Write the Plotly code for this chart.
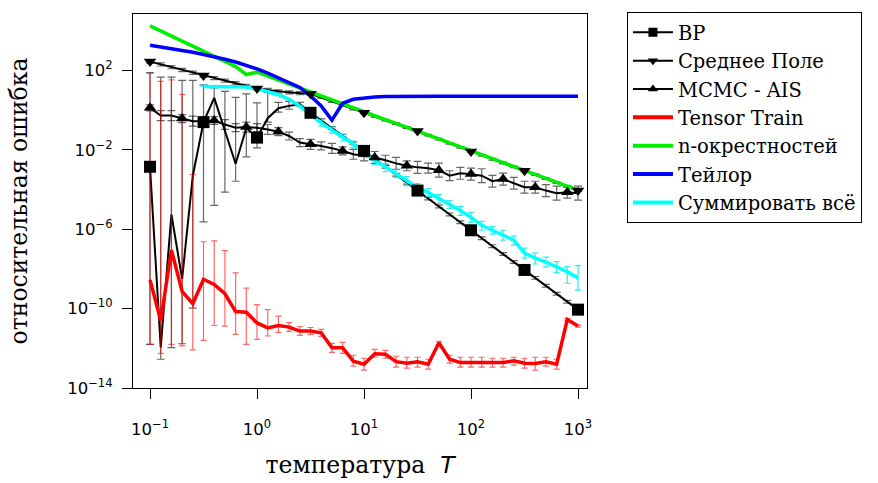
import numpy as np
import plotly.graph_objects as go

# Temperature grid (41 points, 0.1 .. 1000)
T = [0.1, 0.1259, 0.1585, 0.1995, 0.2512, 0.3162, 0.3981, 0.5012, 0.631, 0.7943,
     1.0, 1.259, 1.585, 1.995, 2.512, 3.162, 3.981, 5.012, 6.31, 7.943,
     10.0, 12.59, 15.85, 19.95, 25.12, 31.62, 39.81, 50.12, 63.1, 79.43,
     100.0, 125.9, 158.5, 199.5, 251.2, 316.2, 398.1, 501.2, 631.0, 794.3, 1000.0]

# ---- values, as log10 of relative error ----
bp_log = [-2.85, -11.95, -5.25, -8.5, -3.3, -0.6, 0.62, -1.05, -2.7, -0.9,
          -1.38, -0.4, 0.1, 0.22, 0.3, -0.13, -0.51, -0.9, -1.28, -1.67,
          -2.05, -2.45, -2.85, -3.25, -3.65, -4.05, -4.45, -4.85, -5.25, -5.65,
          -6.05, -6.45, -6.85, -7.25, -7.65, -8.05, -8.45, -8.85, -9.25, -9.65, -10.05]
bp_hi_log = [1.9, 1.67, 1.67, 1.5, 1.5, 1.28, 1.12, 0.95, 0.65, 0.82,
             0.37, 0.9, 0.4, 0.45, 0.4, -0.06, -0.44, -0.83, -1.21, -1.6,
             -1.98, -2.38, -2.78, -3.18, -3.58, -3.98, -4.38, -4.78, -5.18, -5.58,
             -5.98, -6.38, -6.78, -7.18, -7.58, -7.98, -8.38, -8.78, -9.18, -9.58, -9.98]
bp_lo_log = [-11.8, -12.55, -11.97, -11.77, -9.97, -5.63, -4.8, -4.13, -3.58, -2.35,
             -1.9, -0.6, -0.1, 0.05, 0.2, -0.2, -0.58, -0.97, -1.35, -1.74,
             -2.12, -2.52, -2.92, -3.32, -3.72, -4.12, -4.52, -4.92, -5.32, -5.72,
             -6.12, -6.52, -6.92, -7.32, -7.72, -8.12, -8.52, -8.92, -9.32, -9.72, -10.12]

mf_log = [2.45, 2.31, 2.17, 2.03, 1.89, 1.75, 1.62, 1.49, 1.36, 1.23,
          1.1, 1.02, 0.95, 0.9, 0.86, 0.83, 0.64, 0.45, 0.26, 0.07,
          -0.13, -0.31, -0.5, -0.68, -0.87, -1.05, -1.26, -1.46, -1.67, -1.87,
          -2.08, -2.27, -2.47, -2.66, -2.86, -3.05, -3.25, -3.45, -3.65, -3.85, -4.05]
mf_err_log = [0.08, 0.08, 0.08, 0.08, 0.08, 0.08, 0.08, 0.08, 0.08, 0.08,
              0.08, 0.08, 0.08, 0.08, 0.08, 0.06, 0.05, 0.05, 0.05, 0.05,
              0.04, 0.04, 0.04, 0.04, 0.04, 0.04, 0.04, 0.04, 0.04, 0.04,
              0.04, 0.04, 0.04, 0.04, 0.04, 0.04, 0.04, 0.04, 0.04, 0.04, 0.04]

mcmc_log = [0.12, -0.27, -0.27, -0.42, -0.55, -0.55, -0.52, -0.72, -0.88, -0.85,
            -0.88, -0.97, -1.08, -1.3, -1.63, -1.72, -1.8, -1.92, -2.05, -2.22,
            -2.3, -2.38, -2.52, -2.68, -2.8, -2.88, -2.92, -3.02, -3.3, -3.18,
            -3.22, -3.3, -3.58, -3.47, -3.68, -3.88, -3.88, -4.05, -4.18, -4.13, -4.18]
mcmc_err_log = [0.15, 0.25, 0.25, 0.2, 0.25, 0.2, 0.2, 0.25, 0.2, 0.25,
                0.2, 0.25, 0.2, 0.2, 0.2, 0.25, 0.2, 0.25, 0.2, 0.25,
                0.25, 0.3, 0.25, 0.3, 0.25, 0.3, 0.25, 0.35, 0.25, 0.3,
                0.3, 0.35, 0.3, 0.3, 0.3, 0.3, 0.3, 0.3, 0.35, 0.3, 0.35]

tt_log = [-8.55, -10.6, -7.05, -9.13, -9.75, -8.52, -8.78, -9.25, -10.15, -10.18,
          -10.72, -10.97, -10.85, -10.93, -11.13, -11.13, -11.22, -11.97, -11.97, -12.65,
          -12.8, -12.27, -12.3, -12.67, -12.75, -12.68, -12.8, -11.72, -12.55, -12.72,
          -12.72, -12.72, -12.72, -12.72, -12.63, -12.75, -12.77, -12.68, -12.8, -10.55, -10.88]
tt_hi_log = [1.85, 1.45, 1.53, 0.8, -3.25, -6.63, -6.58, -7.08, -8.2, -8.97,
             -9.8, -10.05, -10.38, -10.7, -10.9, -10.95, -11.05, -11.75, -11.7, -12.35,
             -12.5, -12.05, -12.1, -12.4, -12.45, -12.45, -12.55, -11.65, -12.35, -12.45,
             -12.45, -12.45, -12.5, -12.5, -12.45, -12.5, -12.45, -12.45, -12.55, -10.5, -10.83]
tt_lo_log = [-11.8, -12.25, -11.8, -11.88, -12.08, -11.6, -10.85, -10.88, -11.3, -11.8,
             -11.55, -11.38, -11.2, -11.15, -11.35, -11.3, -11.4, -12.2, -12.25, -12.9,
             -13.1, -12.45, -12.5, -12.95, -13.0, -12.95, -13.05, -11.8, -12.75, -12.95,
             -12.95, -12.95, -12.95, -12.95, -12.85, -13.0, -13.1, -12.9, -13.05, -10.6, -10.93]

nb_log = [4.25, 4.0, 3.74, 3.48, 3.23, 2.97, 2.72, 2.46, 2.2, 1.8,
          1.92, 1.72, 1.52, 1.32, 1.12, 0.9, 0.68, 0.48, 0.28, 0.09,
          -0.11, -0.29, -0.48, -0.66, -0.85, -1.03, -1.24, -1.44, -1.65, -1.85,
          -2.06, -2.25, -2.45, -2.64, -2.84, -3.03, -3.23, -3.43, -3.63, -3.83, -4.03]

taylor_log = [3.28, 3.2, 3.11, 3.02, 2.92, 2.81, 2.7, 2.57, 2.43, 2.27,
              2.08, 1.87, 1.64, 1.39, 1.15, 0.72, 0.22, -0.5, 0.35, 0.55,
              0.63, 0.67, 0.69, 0.7, 0.7, 0.7, 0.7, 0.7, 0.7, 0.7,
              0.7, 0.7, 0.7, 0.7, 0.7, 0.7, 0.7, 0.7, 0.7, 0.7, 0.7]

sum_log = [None, None, None, None, None, 1.2, 1.2, 1.2, 1.2, 1.17,
           1.08, 0.95, 0.78, 0.55, 0.2, -0.25, -0.65, -1.0, -1.35, -1.7,
           -2.15, -2.55, -2.85, -3.2, -3.55, -3.9, -4.15, -4.45, -4.75, -5.05,
           -5.4, -5.8, -6.05, -6.3, -6.55, -7.2, -7.45, -7.65, -7.88, -8.15, -8.45]
sum_up_log = [0, 0, 0, 0, 0, 0, 0, 0, 0, 0,
              0, 0, 0, 0, 0, 0.1, 0.15, 0.15, 0.15, 0.15,
              0.15, 0.2, 0.15, 0.2, 0.2, 0.2, 0.2, 0.2, 0.2, 0.2,
              0.25, 0.2, 0.2, 0.25, 0.2, 0.25, 0.25, 0.25, 0.25, 0.27, 0.62]
sum_dn_log = [0, 0, 0, 0, 0, 0, 0, 0, 0, 0,
              0, 0, 0, 0, 0, 0.1, 0.15, 0.15, 0.2, 0.2,
              0.2, 0.2, 0.25, 0.2, 0.25, 0.25, 0.2, 0.25, 0.2, 0.25,
              0.25, 0.25, 0.2, 0.25, 0.25, 0.25, 0.3, 0.25, 0.3, 0.57, 0.62]

x_tick_vals = [0.1, 1, 10, 100, 1000]
x_tick_text = ["10<sup>−1</sup>", "10<sup>0</sup>", "10<sup>1</sup>", "10<sup>2</sup>", "10<sup>3</sup>"]
y_tick_vals = [1e2, 1e-2, 1e-6, 1e-10, 1e-14]
y_tick_text = ["10<sup>2</sup>", "10<sup>−2</sup>", "10<sup>−6</sup>", "10<sup>−10</sup>", "10<sup>−14</sup>"]

names = ["BP", "Среднее Поле", "MCMC - AIS", "Tensor Train", "n-окрестностей", "Тейлор", "Суммировать всё"]


def lin(a):
    return [None if v is None else 10.0 ** v for v in a]


def errs(vals, hi, lo):
    up = [10.0 ** h - 10.0 ** v for v, h in zip(vals, hi)]
    dn = [10.0 ** v - 10.0 ** l for v, l in zip(vals, lo)]
    return up, dn


fig = go.Figure()

BLK_ERR = "rgba(0,0,0,0.6)"
RED_ERR = "rgba(255,0,0,0.6)"
CYA_ERR = "rgba(0,230,230,0.8)"

# BP
up, dn = errs(bp_log, bp_hi_log, bp_lo_log)
fig.add_trace(go.Scatter(x=T, y=lin(bp_log), mode="lines", showlegend=False,
                         line=dict(color="black", width=2),
                         error_y=dict(type="data", symmetric=False, array=up, arrayminus=dn,
                                      color=BLK_ERR, thickness=1.2, width=4)))
# Mean field
up = [10.0 ** (v + e) - 10.0 ** v for v, e in zip(mf_log, mf_err_log)]
dn = [10.0 ** v - 10.0 ** (v - e) for v, e in zip(mf_log, mf_err_log)]
fig.add_trace(go.Scatter(x=T, y=lin(mf_log), mode="lines", showlegend=False,
                         line=dict(color="black", width=2),
                         error_y=dict(type="data", symmetric=False, array=up, arrayminus=dn,
                                      color=BLK_ERR, thickness=1.2, width=4)))
# MCMC
up = [10.0 ** (v + e) - 10.0 ** v for v, e in zip(mcmc_log, mcmc_err_log)]
dn = [10.0 ** v - 10.0 ** (v - e) for v, e in zip(mcmc_log, mcmc_err_log)]
fig.add_trace(go.Scatter(x=T, y=lin(mcmc_log), mode="lines", showlegend=False,
                         line=dict(color="black", width=2),
                         error_y=dict(type="data", symmetric=False, array=up, arrayminus=dn,
                                      color=BLK_ERR, thickness=1.2, width=4)))
# Tensor train
up, dn = errs(tt_log, tt_hi_log, tt_lo_log)
fig.add_trace(go.Scatter(x=T, y=lin(tt_log), mode="lines", showlegend=False,
                         line=dict(color="#ff0000", width=3.5),
                         error_y=dict(type="data", symmetric=False, array=up, arrayminus=dn,
                                      color=RED_ERR, thickness=1.2, width=3)))
# n-neighbourhood
fig.add_trace(go.Scatter(x=T, y=lin(nb_log), mode="lines", showlegend=False,
                         line=dict(color="#00ee00", width=3.5)))
# Taylor
fig.add_trace(go.Scatter(x=T, y=lin(taylor_log), mode="lines", showlegend=False,
                         line=dict(color="#0000ff", width=3.5)))
# Sum all
up = [None if v is None else 10.0 ** (v + e) - 10.0 ** v for v, e in zip(sum_log, sum_up_log)]
dn = [None if v is None else 10.0 ** v - 10.0 ** (v - e) for v, e in zip(sum_log, sum_dn_log)]
fig.add_trace(go.Scatter(x=T, y=lin(sum_log), mode="lines", showlegend=False,
                         line=dict(color="#00ffff", width=3.5),
                         error_y=dict(type="data", symmetric=False, array=up, arrayminus=dn,
                                      color=CYA_ERR, thickness=1.2, width=3)))

# markers on top
fig.add_trace(go.Scatter(x=T[::5], y=lin(bp_log)[::5], mode="markers", showlegend=False,
                         marker=dict(symbol="square", size=12, color="black")))
fig.add_trace(go.Scatter(x=T[::5], y=lin(mf_log)[::5], mode="markers", showlegend=False,
                         marker=dict(symbol="triangle-down", size=11, color="black")))
fig.add_trace(go.Scatter(x=T[::3], y=lin(mcmc_log)[::3], mode="markers", showlegend=False,
                         marker=dict(symbol="triangle-up", size=11, color="black")))

# legend entries
leg_styles = [
    dict(mode="lines+markers", line=dict(color="black", width=2), marker=dict(symbol="square", size=9, color="black")),
    dict(mode="lines+markers", line=dict(color="black", width=2), marker=dict(symbol="triangle-down", size=9, color="black")),
    dict(mode="lines+markers", line=dict(color="black", width=2), marker=dict(symbol="triangle-up", size=9, color="black")),
    dict(mode="lines", line=dict(color="#ff0000", width=4)),
    dict(mode="lines", line=dict(color="#00ee00", width=4)),
    dict(mode="lines", line=dict(color="#0000ff", width=4)),
    dict(mode="lines", line=dict(color="#00ffff", width=4)),
]
for n, st in zip(names, leg_styles):
    fig.add_trace(go.Scatter(x=[None], y=[None], name=n, showlegend=True, **st))

axis_common = dict(type="log", showline=True, mirror=True, linecolor="black", linewidth=1.3,
                   ticks="outside", ticklen=10, tickwidth=1.2, tickcolor="black",
                   showgrid=False, zeroline=False, automargin=False,
                   tickfont=dict(family="DejaVu Sans", size=16.5, color="black"))

fig.update_layout(
    width=878, height=483,
    margin=dict(l=133, r=291, t=12, b=95),
    paper_bgcolor="white", plot_bgcolor="white",
    xaxis=dict(range=[-1.159, 3.084], tickvals=x_tick_vals, ticktext=x_tick_text,
               ticklabelstandoff=16,
               title=dict(text="температура  <span style=\"font-family:'DejaVu Sans'\"><i>T</i></span>",
                          standoff=18,
                          font=dict(family="DejaVu Serif", size=23.5, color="black")),
               **axis_common),
    yaxis=dict(range=[-14, 4.85], tickvals=y_tick_vals, ticktext=y_tick_text,
               ticklabelstandoff=6,
               title=dict(text="относительная ошибка", standoff=32,
                          font=dict(family="DejaVu Serif", size=23.5, color="black")),
               **axis_common),
    legend=dict(x=1.088, y=1.005, xanchor="left", yanchor="top",
                bordercolor="black", borderwidth=1, bgcolor="white",
                font=dict(family="DejaVu Serif", size=19.5, color="black"),
                itemwidth=40),
)

fig.write_html("out.html", post_script="document.body.style.margin='0px';",
               config={"displayModeBar": False})
